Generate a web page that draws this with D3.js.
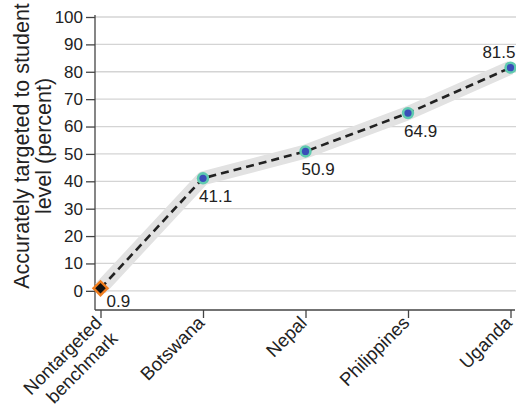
<!DOCTYPE html>
<html><head><meta charset="utf-8">
<script src="https://cdn.jsdelivr.net/npm/d3@7"></script>
<style>body{margin:0;background:#fff}svg{display:block}text{font-family:"Liberation Sans",Arial,sans-serif;fill:#222}</style>
</head><body><svg id="c" width="516" height="410"></svg>
<script>
const categories = ["Nontargeted benchmark","Botswana","Nepal","Philippines","Uganda"];
const values = [0.9, 41.1, 50.9, 64.9, 81.5];
const yTicks = [0,10,20,30,40,50,60,70,80,90,100];
const labelPos = ["right","below","below","below","above"];

const svg = d3.select("#c");
const mLeft = 95, mRight = 515, mTop = 17, mBottom = 310;
const x = d3.scalePoint().domain(categories).range([100.5, 510.5]);
const y = d3.scaleLinear().domain([-7, 100]).range([mBottom, mTop]);

// gridlines
svg.append("g").selectAll("line").data(yTicks).join("line")
  .attr("x1", mLeft).attr("x2", mRight+1)
  .attr("y1", d=>y(d)).attr("y2", d=>y(d))
  .attr("stroke", "#d4d4d4").attr("stroke-width", 1.3);

// y axis
const ya = svg.append("g").attr("transform", `translate(${mLeft},0)`)
  .call(d3.axisLeft(y).tickValues(yTicks).tickSize(9).tickPadding(3));
ya.select(".domain").attr("stroke","#444").attr("stroke-width",1.3).attr("d",`M0,${mTop-2}V${mBottom}`);
ya.selectAll(".tick line").attr("stroke","#444").attr("stroke-width",1.3);
ya.selectAll(".tick text").style("font-size","17px").attr("fill","#222");

// x axis
const xa = svg.append("g").attr("transform", `translate(0,${mBottom})`)
  .call(d3.axisBottom(x).tickSize(8).tickFormat(""));
xa.select(".domain").attr("stroke","#444").attr("stroke-width",1.3).attr("d",`M${mLeft},0H${mRight}`);
xa.selectAll(".tick line").attr("stroke","#444").attr("stroke-width",1.3);
xa.selectAll(".tick").each(function(d){
  const g = d3.select(this);
  const words = d === "Nontargeted benchmark" ? ["Nontargeted","benchmark"] : [d];
  const t = g.append("text").attr("text-anchor","end")
    .attr("transform","translate(2,14) rotate(-45)")
    .style("font-size","18.5px").attr("fill","#222");
  words.forEach((w,i)=>t.append("tspan").attr("x",0).attr("dy", i===0?0:"1.2em").text(w));
});

// y label
const yl = svg.append("text").attr("transform","translate(29,146) rotate(-90)")
  .attr("text-anchor","middle").style("font-size","21.5px").attr("fill","#222");
yl.append("tspan").attr("x",0).attr("y",0).text("Accurately targeted to student");
yl.append("tspan").attr("x",0).attr("y",22).text("level (percent)");

const pts = categories.map((c,i)=>[x(c), y(values[i])]);
const line = d3.line();
svg.append("path").attr("d", line(pts)).attr("fill","none")
  .attr("stroke","#e2e2e2").attr("stroke-width",14).attr("stroke-linejoin","round");
svg.append("path").attr("d", line(pts)).attr("fill","none")
  .attr("stroke","#222").attr("stroke-width",2.6).attr("stroke-dasharray","8,5");

// markers
categories.forEach((c,i)=>{
  const px = x(c), py = y(values[i]);
  if(i===0){
    svg.append("path").attr("d", d3.symbol(d3.symbolSquare, 150)())
      .attr("transform",`translate(${px},${py}) rotate(45)`).attr("fill","#f07d1e");
    svg.append("path").attr("d", d3.symbol(d3.symbolSquare, 55)())
      .attr("transform",`translate(${px},${py}) rotate(45)`).attr("fill","#111");
  } else {
    svg.append("circle").attr("cx",px).attr("cy",py).attr("r",6.2).attr("fill","#5fcab0");
    svg.append("circle").attr("cx",px).attr("cy",py).attr("r",3.6).attr("fill","#3a4db8");
  }
});

// value labels
categories.forEach((c,i)=>{
  const px = x(c), py = y(values[i]);
  const t = svg.append("text").style("font-size","17px").attr("fill","#222").text(values[i].toFixed(1));
  if(labelPos[i]==="right") t.attr("x",px+6).attr("y",py+19);
  else if(labelPos[i]==="below") t.attr("x",px-4).attr("y",py+24);
  else t.attr("x",px+5).attr("y",py-10).attr("text-anchor","end");
});
</script></body></html>
